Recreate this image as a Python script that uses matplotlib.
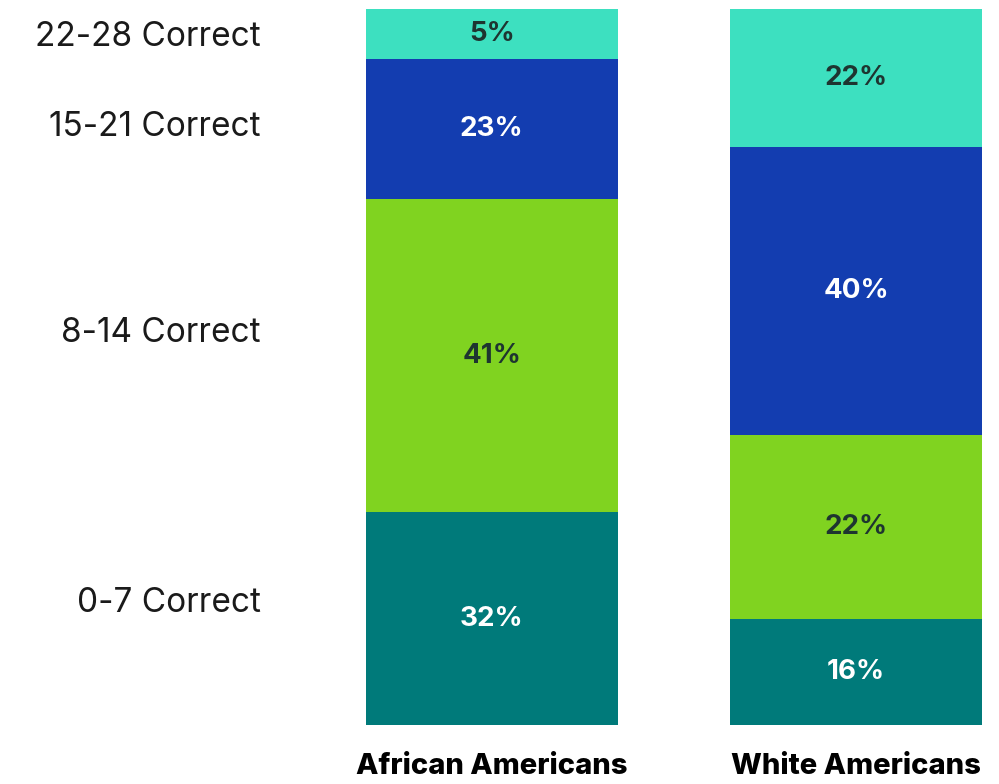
import matplotlib.pyplot as plt
import numpy as np

groups = ['African Americans', 'White Americans']
bands = ['0-7 Correct', '8-14 Correct', '15-21 Correct', '22-28 Correct']
# printed shares, bottom band first
shares = {
    'African Americans': [32, 41, 23, 5],
    'White Americans': [16, 22, 40, 22],
}
# segment heights as drawn in the picture (percent of bar height)
heights = {
    'African Americans': [29.7, 43.7, 19.6, 7.0],
    'White Americans': [14.8, 25.7, 40.2, 19.3],
}
colors = ['#007a7a', '#80d320', '#133db0', '#3de0c0']
text_colors = ['white', '#1e3530', 'white', '#1e3530']

plt.rcParams['font.family'] = ['Inter', 'DejaVu Sans']

fig = plt.figure(figsize=(9.99, 7.84), dpi=100)
ax = fig.add_axes([366 / 999, 59 / 784, 616 / 999, 716 / 784])

x = np.arange(len(groups))
width = 0.69
for i, band in enumerate(bands):
    vals = [heights[g][i] for g in groups]
    bottoms = [sum(heights[g][:i]) for g in groups]
    bars = ax.bar(x, vals, width, bottom=bottoms, color=colors[i], linewidth=0)
    ax.bar_label(bars, labels=[f'{shares[g][i]}%' for g in groups], label_type='center',
                 color=text_colors[i], fontsize=20, fontweight='bold')

ax.set_xlim(-0.345, 1.345)
ax.set_ylim(0, 100)

# band names on the left, placed roughly next to the first bar's segments
label_y = [17.5, 55.2, 84.0, 96.6]
ax.set_yticks(label_y)
ax.set_yticklabels(bands, fontsize=24, color='#1a1a1a')
ax.tick_params(axis='y', length=0, pad=76)

ax.set_xticks(x)
ax.set_xticklabels(groups, fontsize=21, fontweight='heavy', color='black')
ax.tick_params(axis='x', length=0, pad=20)

for s in ax.spines.values():
    s.set_visible(False)

fig.savefig('out.png', dpi=100)
